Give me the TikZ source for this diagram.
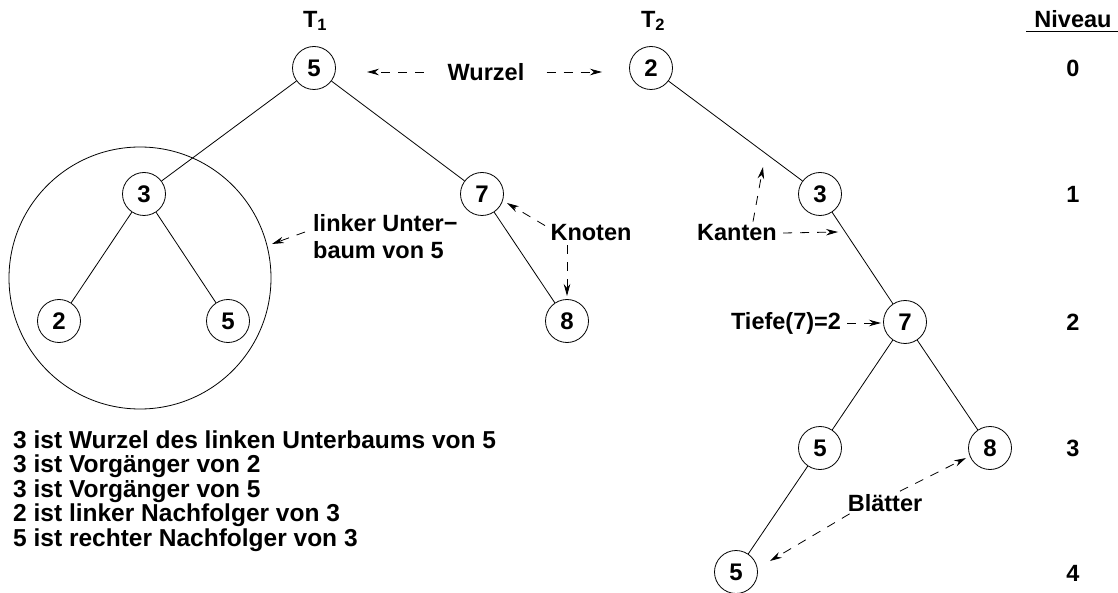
\documentclass[tikz,border=0pt]{standalone}
\usepackage{fontspec}
\setmainfont{Liberation Sans}
\usetikzlibrary{arrows.meta}
\begin{document}
\begin{tikzpicture}[x=1pt,y=-1pt,
  every node/.style={font=\fontsize{23.5}{27}\selectfont\bfseries},
  vertex/.style={circle,draw,line width=0.8pt,minimum size=43pt,inner sep=0pt,font=\fontsize{24}{27}\selectfont\bfseries},
  edge/.style={line width=0.8pt},
  da/.style={dash pattern=on 9pt off 8pt,line width=0.8pt,-{Stealth[length=12pt,width=6.5pt]}},
  lbl/.style={inner sep=0pt}]
\useasboundingbox (0,0) rectangle (1118,593);

% titles
\node[lbl] (t1) at (315,21) {T\textsubscript{1}};
\node[lbl] (t2) at (653,21) {T\textsubscript{2}};
\node[lbl] (nv) at (1073,19) {Niveau};
\draw[line width=0.8pt] ([xshift=-8pt,yshift=-4pt]nv.south west) -- ([xshift=6pt,yshift=-4pt]nv.south east);

% levels
\node[lbl] (l0) at (1073,68) {0};
\node[lbl] (l1) at (1073,194) {1};
\node[lbl] (l2) at (1073,322) {2};
\node[lbl] (l3) at (1073,448) {3};
\node[lbl] (l4) at (1073,573) {4};

% subtree circle
\node[circle,draw,line width=0.8pt,minimum size=262pt,inner sep=0pt] (sub) at (140,278) {};

% tree T1
\node[vertex] (a5) at (314,68) {5};
\node[vertex] (a3) at (144,194) {3};
\node[vertex] (a7) at (482,194) {7};
\node[vertex] (a2) at (59,321) {2};
\node[vertex] (a5b) at (228,321) {5};
\node[vertex] (a8) at (567,321) {8};
\draw[edge] (a5) -- (a3);
\draw[edge] (a5) -- (a7);
\draw[edge] (a3) -- (a2);
\draw[edge] (a3) -- (a5b);
\draw[edge] (a7) -- (a8);

% tree T2
\node[vertex] (b2) at (651,68) {2};
\node[vertex] (b3) at (820,194) {3};
\node[vertex] (b7) at (905,322) {7};
\node[vertex] (b5) at (820,448) {5};
\node[vertex] (b8) at (990,448) {8};
\node[vertex] (b5b) at (736,572) {5};
\draw[edge] (b2) -- (b3);
\draw[edge] (b3) -- (b7);
\draw[edge] (b7) -- (b5);
\draw[edge] (b7) -- (b8);
\draw[edge] (b5) -- (b5b);

% Wurzel
\node[lbl] (wz) at (486,72) {Wurzel};
\coordinate (wzL) at (367,72);
\coordinate (wzR) at (602,72);
\draw[da] ([xshift=-24pt]wz.west) -- (wzL);
\draw[da] ([xshift=22pt]wz.east) -- (wzR);

% linker Unterbaum
\node[lbl,anchor=west,align=left] (lu) at (313,237) {linker Unter−\\baum von 5};
\coordinate (luA) at (272,244);
\coordinate (luS) at (305,232);
\draw[da] (luS) -- (luA);

% Knoten
\node[lbl] (kn) at (591,233) {Knoten};
\coordinate (kn7) at (507,203);
\coordinate (kn8) at (567,296);
\draw[da] ([xshift=-46pt,yshift=-1pt]kn.north) -- (kn7);
\draw[da] ([yshift=-4pt]kn.south -| kn8) -- (kn8);

% Kanten
\node[lbl] (ka) at (737,233) {Kanten};
\coordinate (kaU) at (763,167);
\coordinate (kaR) at (838,232);
\draw[da] ([xshift=16pt,yshift=3pt]ka.north) -- (kaU);
\draw[da] ([xshift=6pt]ka.east) -- (kaR);

% Tiefe
\node[lbl] (tf) at (786,323) {Tiefe(7)=2};
\coordinate (tfA) at (881,323);
\draw[da] ([xshift=6pt]tf.east) -- (tfA);

% Blaetter
\node[lbl] (bl) at (885,503) {Blätter};
\coordinate (blU) at (966,458);
\coordinate (blD) at (770,561);
\draw[da] ([xshift=15pt,yshift=3pt]bl.north) -- (blU);
\draw[da] ([xshift=2pt,yshift=-2pt]bl.south west) -- (blD);

% statements
\node[lbl,anchor=base west,align=left,font=\fontsize{24.5}{24.6}\selectfont\bfseries] (st) at (13,546.4) {3 ist Wurzel des linken Unterbaums von 5\\3 ist Vorgänger von 2\\3 ist Vorgänger von 5\\2 ist linker Nachfolger von 3\\5 ist rechter Nachfolger von 3};
\end{tikzpicture}
\end{document}
